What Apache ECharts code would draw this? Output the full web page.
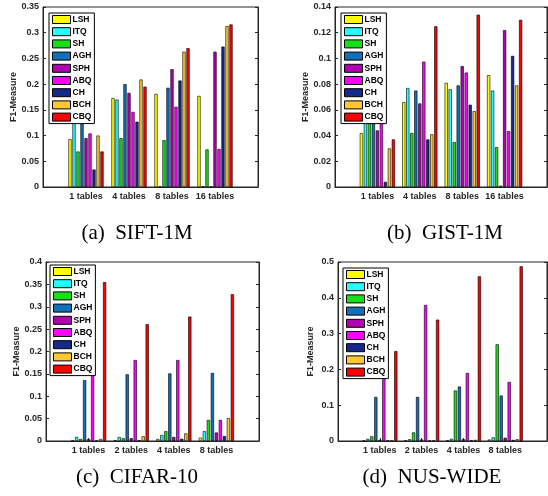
<!DOCTYPE html>
<html>
<head>
<meta charset="utf-8">
<script src="https://cdn.jsdelivr.net/npm/echarts@6/dist/echarts.min.js"></script>
<style>
  html, body { margin: 0; padding: 0; background: #fff; }
  #main { width: 548px; height: 496px; }
</style>
</head>
<body>
<div id="main"></div>
<script>
// methods and their bar colours
const methods = ['LSH', 'ITQ', 'SH', 'AGH', 'SPH', 'ABQ', 'CH', 'BCH', 'CBQ'];
const methodColors = ['#ffff00', '#22ffff', '#18e018', '#1170b8', '#b000b0', '#ff00ff', '#17298a', '#fdc830', '#ff0000'];

const tablesAB = ['1 tables', '4 tables', '8 tables', '16 tables'];
const tablesCD = ['1 tables', '2 tables', '4 tables', '8 tables'];

// F1-Measure, one row per method (same order as methods), one column per table count
const siftF1 = [
  [0.093, 0.173, 0.181, 0.177],
  [0.160, 0.170, 0.001, 0.001],
  [0.069, 0.095, 0.091, 0.073],
  [0.160, 0.200, 0.193, 0.001],
  [0.095, 0.183, 0.229, 0.263],
  [0.104, 0.146, 0.156, 0.074],
  [0.034, 0.127, 0.207, 0.273],
  [0.100, 0.209, 0.263, 0.313],
  [0.069, 0.195, 0.270, 0.316]
];
const gistF1 = [
  [0.042, 0.066, 0.081, 0.087],
  [0.070, 0.077, 0.076, 0.075],
  [0.066, 0.042, 0.035, 0.031],
  [0.072, 0.075, 0.079, 0.001],
  [0.044, 0.065, 0.094, 0.122],
  [0.066, 0.0975, 0.089, 0.0435],
  [0.004, 0.037, 0.064, 0.102],
  [0.030, 0.041, 0.059, 0.079],
  [0.037, 0.125, 0.134, 0.130]
];
const cifarF1 = [
  [0.001, 0.0015, 0.0045, 0.0075],
  [0.009, 0.009, 0.0135, 0.022],
  [0.0045, 0.006, 0.022, 0.047],
  [0.136, 0.149, 0.151, 0.152],
  [0.004, 0.006, 0.009, 0.019],
  [0.175, 0.181, 0.181, 0.047],
  [0.001, 0.002, 0.005, 0.011],
  [0.0045, 0.0105, 0.017, 0.051],
  [0.355, 0.261, 0.278, 0.328]
];
const nusF1 = [
  [0.001, 0.001, 0.001, 0.004],
  [0.006, 0.005, 0.006, 0.010],
  [0.013, 0.024, 0.141, 0.270],
  [0.123, 0.123, 0.152, 0.127],
  [0.003, 0.004, 0.005, 0.009],
  [0.215, 0.380, 0.190, 0.165],
  [0.002, 0.001, 0.002, 0.003],
  [0.001, 0.001, 0.003, 0.005],
  [0.251, 0.339, 0.460, 0.488]
];

const captions = ['(a)  SIFT-1M', '(b)  GIST-1M', '(c)  CIFAR-10', '(d)  NUS-WIDE'];
const yMax = [0.35, 0.14, 0.4, 0.5];
const yStep = [0.05, 0.02, 0.05, 0.1];

const panels = [
  { data: siftF1, cats: tablesAB, grid: { left: 43, top: 7, width: 215, height: 180 }, legend: { left: 49, top: 13 }, cap: [137, 233] },
  { data: gistF1, cats: tablesAB, grid: { left: 335, top: 7, width: 212, height: 180 }, legend: { left: 341, top: 13 }, cap: [445, 233] },
  { data: cifarF1, cats: tablesCD, grid: { left: 46, top: 262, width: 213, height: 179 }, legend: { left: 50, top: 265 }, cap: [137, 477] },
  { data: nusF1, cats: tablesCD, grid: { left: 338, top: 262, width: 209, height: 179 }, legend: { left: 343, top: 268 }, cap: [432, 477] }
];

const txt = '#262626';
const font = 'Liberation Sans';

const option = {
  animation: false,
  backgroundColor: '#fff',
  grid: [], xAxis: [], yAxis: [], legend: [], series: [], graphic: []
};

panels.forEach((p, gi) => {
  option.grid.push(Object.assign({ show: true, borderColor: txt, borderWidth: 1, outerBoundsMode: 'none' }, p.grid));
  option.xAxis.push({
    type: 'category', gridIndex: gi, boundaryGap: false,
    data: [''].concat(p.cats, [' ']),
    axisLine: { lineStyle: { color: txt, width: 1 } },
    axisTick: { inside: true, length: 3, lineStyle: { color: txt }, interval: (i) => i > 0 && i < 5 },
    axisLabel: { color: txt, fontSize: 9, fontWeight: 'bold', fontFamily: font, margin: 5, interval: 0 },
    splitLine: { show: false }
  });
  const yBase = {
    type: 'value', gridIndex: gi, min: 0, max: yMax[gi], interval: yStep[gi],
    axisLine: { show: true, lineStyle: { color: txt, width: 1 } },
    axisTick: { show: true, inside: true, length: 3, lineStyle: { color: txt } },
    splitLine: { show: false }
  };
  option.yAxis.push(Object.assign({}, yBase, {
    position: 'left',
    name: 'F1-Measure', nameLocation: 'middle', nameGap: 23,
    nameTextStyle: { color: txt, fontSize: 9, fontWeight: 'bold', fontFamily: font },
    axisLabel: { color: txt, fontSize: 9, fontWeight: 'bold', fontFamily: font, margin: 4 }
  }));
  option.yAxis.push(Object.assign({}, yBase, { position: 'right', axisLabel: { show: false } }));

  option.legend.push(Object.assign({
    orient: 'vertical', data: methods,
    backgroundColor: '#fff', borderColor: '#000', borderWidth: 1,
    padding: [2, 3, 2, 3], itemWidth: 18, itemHeight: 8, itemGap: 3.2,
    icon: 'rect',
    itemStyle: { borderColor: '#000', borderWidth: 1 },
    textStyle: { color: '#000', fontSize: 8.5, fontWeight: 'bold', fontFamily: font, padding: [0, 0, 0, -3] },
    selectedMode: false
  }, p.legend));

  methods.forEach((m, mi) => {
    option.series.push({
      name: m, type: 'bar', xAxisIndex: gi, yAxisIndex: gi * 2,
      data: ['-'].concat(p.data[mi], ['-']),
      barWidth: 3.2, barGap: '25%',
      itemStyle: { color: methodColors[mi], borderColor: '#000', borderWidth: 0.6 }
    });
  });

  option.graphic.push({
    type: 'text', x: p.cap[0], y: p.cap[1],
    style: { text: captions[gi], fill: '#000', font: '21px "Liberation Serif"', textAlign: 'center', textVerticalAlign: 'middle' }
  });
});

const chart = echarts.init(document.getElementById('main'), null, { renderer: 'canvas' });
chart.setOption(option);
</script>
</body>
</html>
